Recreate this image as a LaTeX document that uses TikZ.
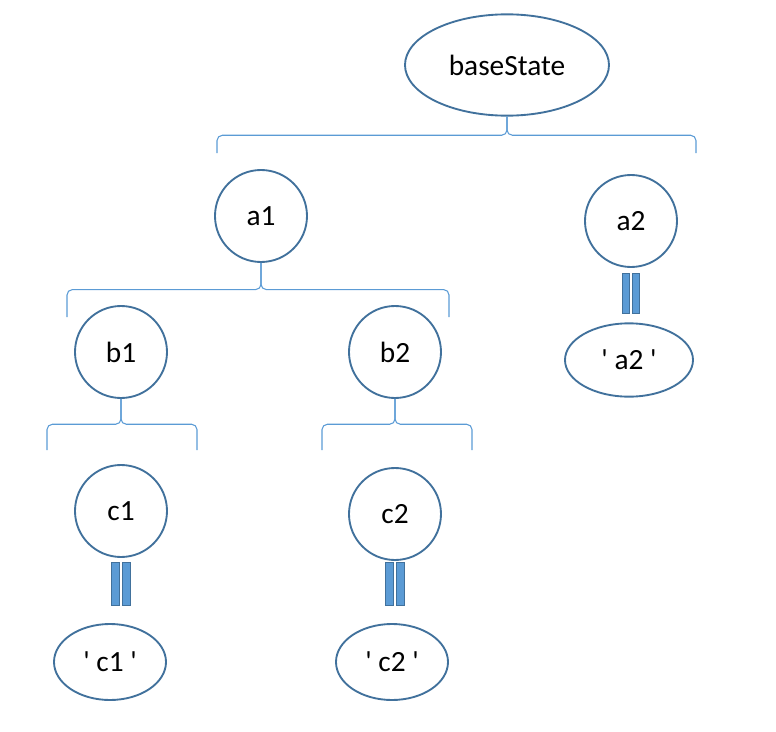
\documentclass[tikz,border=0pt]{standalone}
\usepackage{fontspec}
\setmainfont{Carlito}
\usetikzlibrary{shapes.geometric}
\definecolor{statedark}{RGB}{65,113,156}
\definecolor{statelight}{RGB}{91,155,213}
\newcommand{\sq}{\textquotesingle}

\begin{document}
\begin{tikzpicture}[x=0.75pt,y=-0.75pt,
  state/.style={circle,draw=statedark,line width=1.4pt,minimum size=69pt,inner sep=0pt,
    font=\fontsize{22}{26}\selectfont},
  leaf/.style={ellipse,draw=statedark,line width=1.4pt,inner sep=0pt,minimum width=84pt,
    minimum height=57pt,font=\fontsize{22}{26}\selectfont},
  brace/.style={draw=statelight,line width=0.8pt,rounded corners=4pt},
  bar/.style={draw=statedark,fill=statelight,line width=0.7pt}]
  \useasboundingbox (0,0) rectangle (776,732);

  % states
  \node[leaf,minimum width=153pt,minimum height=76pt] (base) at (507,65) {baseState};
  \node[state] (a1) at (261,216) {a1};
  \node[state] (a2) at (631,221) {a2};
  \node[state] (b1) at (121,352) {b1};
  \node[state] (b2) at (395,352) {b2};
  \node[state] (c1) at (121,511) {c1};
  \node[state] (c2) at (395,514) {c2};
  \node[leaf,minimum width=96pt,minimum height=55pt] (va2) at (629,360) {\sq\ a2\ \sq};
  \node[leaf] (vc1) at (110,662) {\sq\ c1\ \sq};
  \node[leaf] (vc2) at (392,662) {\sq\ c2\ \sq};

  % brace ends
  \coordinate (base l) at (217,153);
  \coordinate (base r) at (696,153);
  \coordinate (a1 l) at (67,317);
  \coordinate (a1 r) at (449,317);
  \coordinate (b1 l) at (47,450);
  \coordinate (b1 r) at (197,450);
  \coordinate (b2 l) at (322,450);
  \coordinate (b2 r) at (472,450);

  % braces
  \draw[brace] (base l) |- ([yshift=-14pt]base.south) -- (base.south);
  \draw[brace] (base r) |- ([yshift=-14pt]base.south) -- (base.south);
  \draw[brace] (a1 l) |- ([yshift=-20pt]a1.south) -- (a1.south);
  \draw[brace] (a1 r) |- ([yshift=-20pt]a1.south) -- (a1.south);
  \draw[brace] (b1 l) |- ([yshift=-19pt]b1.south) -- (b1.south);
  \draw[brace] (b1 r) |- ([yshift=-19pt]b1.south) -- (b1.south);
  \draw[brace] (b2 l) |- ([yshift=-19pt]b2.south) -- (b2.south);
  \draw[brace] (b2 r) |- ([yshift=-19pt]b2.south) -- (b2.south);

  % equal bars
  \draw[bar] (622,273) rectangle (629.5,313);
  \draw[bar] (632,273) rectangle (639.5,313);
  \draw[bar] (111.5,562) rectangle (119.5,605);
  \draw[bar] (122,562) rectangle (130,605);
  \draw[bar] (385.5,562) rectangle (393.5,605);
  \draw[bar] (396,562) rectangle (404,605);
\end{tikzpicture}
\end{document}
